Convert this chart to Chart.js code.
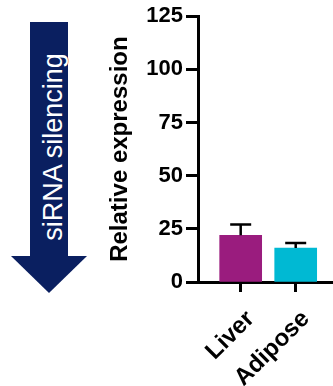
<!DOCTYPE html>
<html>
<head>
<meta charset="utf-8">
<script src="https://cdn.jsdelivr.net/npm/chart.js@4.4.0/dist/chart.umd.min.js"></script>
<style>
  html, body { margin: 0; padding: 0; background: #fff; }
  #wrap { position: relative; width: 333px; height: 386px; }
  #chart { position: absolute; left: 0; top: 0; }
  /* the big "siRNA silencing" arrow on the left */
  .shaft { position: absolute; left: 30px; top: 22px; width: 38px; height: 235px; background: #0a1f60; }
  .head { position: absolute; left: 11px; top: 256px; width: 0; height: 0;
          border-left: 38px solid transparent; border-right: 38px solid transparent;
          border-top: 37px solid #0a1f60; }
  .arrow-text { position: absolute; left: 53px; top: 147px; transform: translate(-50%, -50%) rotate(-90deg);
                color: #fff; font: 27px 'Liberation Sans', Arial, sans-serif; white-space: nowrap; line-height: 1; }
</style>
</head>
<body>
<div id="wrap">
  <canvas id="chart" width="333" height="386"></canvas>
  <div class="shaft"></div>
  <div class="head"></div>
  <div class="arrow-text">siRNA silencing</div>
</div>
<script>
const categories = ['Liver', 'Adipose'];
const means = [22, 16];
const errors = [5, 2.3];
const barColors = ['#9a1c7e', '#00b9d3'];
const yTicks = [0, 25, 50, 75, 100, 125];

const FONT = "'Liberation Sans', Arial, sans-serif";

// upper-only error bars with caps
const errorBars = {
  id: 'errorBars',
  afterDatasetsDraw(chart) {
    const meta = chart.getDatasetMeta(0);
    const yScale = chart.scales.y;
    const ctx = chart.ctx;
    ctx.save();
    ctx.strokeStyle = '#000';
    ctx.lineWidth = 2.5;
    meta.data.forEach((bar, i) => {
      const top = yScale.getPixelForValue(means[i] + errors[i]);
      ctx.beginPath();
      ctx.moveTo(bar.x, bar.y);
      ctx.lineTo(bar.x, top);
      ctx.moveTo(bar.x - 10.5, top);
      ctx.lineTo(bar.x + 10.5, top);
      ctx.stroke();
    });
    ctx.restore();
  }
};

new Chart(document.getElementById('chart'), {
  type: 'bar',
  data: {
    datasets: [{
      data: categories.map((c, i) => ({ x: i + 1, y: means[i] })),
      backgroundColor: barColors,
      borderWidth: 0,
      barThickness: 42
    }]
  },
  plugins: [errorBars],
  options: {
    responsive: false,
    animation: false,
    layout: { padding: { left: 106, top: 1, right: 0, bottom: 0 } },
    plugins: {
      legend: { display: false },
      tooltip: { enabled: false }
    },
    scales: {
      x: {
        type: 'linear',
        offset: false,
        min: 0.224,
        max: 2.678,
        z: 1,
        afterFit: s => { s.height = 104; },
        afterBuildTicks: s => { s.ticks = categories.map((c, i) => ({ value: i + 1 })); },
        border: { display: true, color: '#000', width: 3 },
        grid: { offset: false, drawOnChartArea: false, color: '#000', tickLength: 10, tickWidth: 3 },
        ticks: {
          autoSkip: false,
          minRotation: 45,
          maxRotation: 45,
          padding: 13,
          labelOffset: 10,
          color: '#000',
          font: { family: FONT, size: 24, weight: 'bold' },
          callback: v => categories[v - 1]
        }
      },
      y: {
        min: 0,
        max: 125,
        afterFit: s => { s.width = 92; },
        afterBuildTicks: s => { s.ticks = yTicks.map(v => ({ value: v })); },
        border: { display: true, color: '#000', width: 3 },
        grid: { drawOnChartArea: false, color: '#000', tickLength: 12, tickWidth: 3 },
        ticks: {
          padding: 3,
          color: '#000',
          font: { family: FONT, size: 22, weight: 'bold' }
        },
        title: {
          display: true,
          text: 'Relative expression',
          color: '#000',
          padding: { top: 0, bottom: 0 },
          font: { family: FONT, size: 24, weight: 'bold' }
        }
      }
    }
  }
});
</script>
</body>
</html>
